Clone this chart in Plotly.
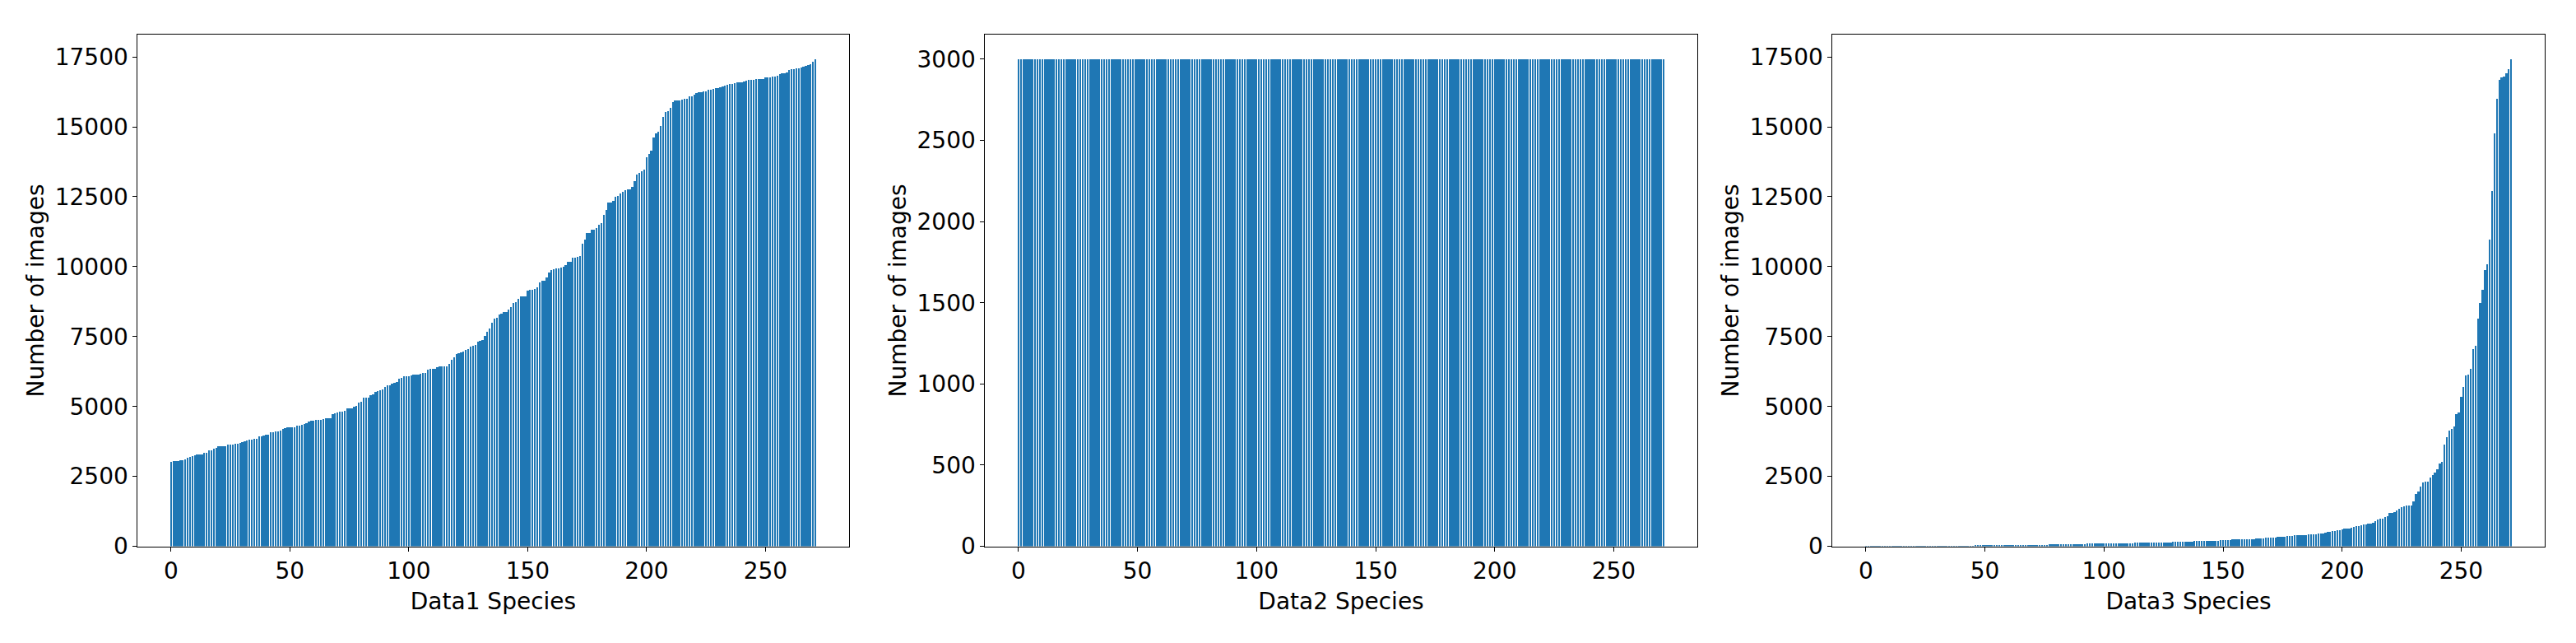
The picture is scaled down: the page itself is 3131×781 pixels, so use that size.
import plotly.graph_objects as go
from plotly.subplots import make_subplots

# number of images per species, sorted ascending
data1_counts = [
    3020, 3055, 3055, 3055, 3085, 3085, 3115, 3175, 3205, 3235,
    3265, 3285, 3285, 3285, 3345, 3345, 3435, 3435, 3485, 3515,
    3575, 3575, 3575, 3575, 3635, 3635, 3635, 3655, 3655, 3685,
    3715, 3745, 3775, 3805, 3805, 3835, 3855, 3945, 3945, 3975,
    4005, 4005, 4065, 4065, 4095, 4115, 4145, 4205, 4235, 4265,
    4265, 4265, 4265, 4325, 4325, 4345, 4375, 4405, 4465, 4495,
    4495, 4525, 4525, 4525, 4550, 4580, 4580, 4580, 4720, 4750,
    4780, 4810, 4810, 4840, 4930, 4930, 4930, 4980, 5010, 5150,
    5180, 5320, 5320, 5320, 5410, 5440, 5530, 5550, 5580, 5610,
    5705, 5755, 5755, 5815, 5845, 5875, 5985, 6015, 6075, 6075,
    6075, 6105, 6135, 6135, 6135, 6155, 6185, 6185, 6305, 6335,
    6335, 6355, 6415, 6445, 6445, 6445, 6445, 6535, 6680, 6770,
    6880, 6910, 6940, 6970, 7020, 7050, 7140, 7170, 7200, 7310,
    7340, 7370, 7510, 7680, 7800, 8005, 8145, 8175, 8285, 8315,
    8375, 8375, 8465, 8545, 8695, 8745, 8835, 8945, 8945, 8945,
    9150, 9180, 9180, 9210, 9270, 9440, 9500, 9500, 9610, 9780,
    9870, 9900, 9930, 9930, 9960, 9990, 10070, 10180, 10180, 10330,
    10330, 10360, 10390, 10815, 10965, 11195, 11215, 11335, 11335, 11395,
    11505, 11565, 11855, 12030, 12290, 12290, 12340, 12510, 12540, 12630,
    12690, 12740, 12770, 12770, 12860, 13060, 13295, 13345, 13405, 13465,
    13925, 14035, 14155, 14610, 14760, 14820, 15020, 15360, 15530, 15560,
    15670, 15880, 15940, 15940, 15940, 15970, 16000, 16000, 16080, 16080,
    16140, 16200, 16230, 16230, 16280, 16280, 16340, 16340, 16370, 16400,
    16400, 16420, 16450, 16480, 16510, 16540, 16540, 16570, 16600, 16600,
    16600, 16630, 16650, 16680, 16680, 16680, 16710, 16710, 16710, 16710,
    16770, 16770, 16770, 16800, 16800, 16830, 16890, 16910, 16910, 16940,
    17020, 17060, 17060, 17080, 17080, 17110, 17140, 17170, 17200, 17230,
    17340, 17410,
]

# balanced set: every species capped at 3000
data2_counts = [3000] * 272

data3_counts = [
    1, 1, 1, 1, 1, 1, 1, 1, 1, 1,
    1, 1, 1, 1, 1, 1, 1, 1, 1, 1,
    2, 2, 2, 2, 2, 2, 2, 2, 2, 2,
    2, 2, 2, 2, 2, 3, 3, 3, 3, 3,
    3, 3, 3, 3, 3, 3, 32, 33, 33, 34,
    34, 35, 35, 36, 36, 37, 37, 38, 38, 39,
    39, 40, 40, 41, 41, 42, 42, 43, 43, 44,
    44, 45, 45, 46, 47, 48, 58, 60, 61, 62,
    63, 64, 65, 66, 67, 68, 68, 69, 70, 71,
    86, 88, 89, 90, 91, 92, 93, 94, 95, 96,
    97, 98, 99, 100, 101, 102, 103, 104, 105, 106,
    107, 108, 118, 119, 120, 121, 122, 123, 124, 125,
    126, 127, 128, 129, 130, 142, 144, 146, 148, 150,
    152, 153, 154, 155, 168, 171, 174, 177, 180, 182,
    184, 196, 198, 200, 201, 202, 204, 205, 207, 222,
    225, 227, 229, 231, 250, 252, 254, 255, 257, 258,
    260, 261, 263, 265, 280, 284, 287, 290, 306, 310,
    313, 316, 320, 337, 341, 345, 349, 366, 370, 375,
    392, 395, 398, 401, 404, 407, 425, 428, 432, 436,
    452, 456, 460, 487, 510, 518, 540, 548, 568, 576,
    601, 625, 630, 636, 659, 687, 712, 720, 745, 773,
    795, 805, 820, 850, 888, 945, 974, 1002, 1060, 1088,
    1195, 1203, 1210, 1289, 1346, 1403, 1432, 1455, 1461, 1468,
    1604, 1862, 1948, 2148, 2291, 2315, 2325, 2463, 2549, 2640,
    2740, 2950, 3007, 3626, 3915, 4150, 4202, 4294, 4736, 4777,
    5331, 5701, 6102, 6132, 6348, 7056, 7179, 8145, 8689, 9181,
    9869, 10075, 10958, 12714, 14757, 15990, 16687, 16770, 16800, 16913,
    17057, 17410,
]

dataset_names = ["Data1", "Data2", "Data3"]
x_ticks = [0, 50, 100, 150, 200, 250]
y_ticks_big = [0, 2500, 5000, 7500, 10000, 12500, 15000, 17500]
y_ticks_small = [0, 500, 1000, 1500, 2000, 2500, 3000]

assert len(data1_counts) == len(data2_counts) == len(data3_counts) == 272
species = list(range(len(data1_counts)))

BLUE = "#1f77b4"
FONT = "DejaVu Sans"

fig = make_subplots(rows=1, cols=3)
for col, counts in enumerate([data1_counts, data2_counts, data3_counts], start=1):
    fig.add_trace(go.Bar(x=species, y=counts, marker=dict(color=BLUE, line=dict(width=0)),
                         showlegend=False), row=1, col=col)

x_domains = [[0.05347, 0.32945], [0.38243, 0.65880], [0.71140, 0.98777]]
y_ranges = [[0, 18290], [0, 3150], [0, 18290]]
y_tick_sets = [y_ticks_big, y_ticks_small, y_ticks_big]

axis_style = dict(showline=True, mirror=True, linecolor="black", linewidth=1,
                  ticks="outside", ticklen=5, tickwidth=1, tickcolor="black",
                  showgrid=False, zeroline=False,
                  tickfont=dict(family=FONT, size=28, color="black"))

for i in range(3):
    fig.update_xaxes(domain=x_domains[i], range=[-13.99, 284.99],
                     tickvals=x_ticks, ticktext=[str(t) for t in x_ticks],
                     title=dict(text=f"{dataset_names[i]} Species",
                                font=dict(family=FONT, size=28, color="black"), standoff=11),
                     row=1, col=i + 1, **axis_style)
    fig.update_yaxes(domain=[0.1315, 0.9446], range=y_ranges[i],
                     tickvals=y_tick_sets[i], ticktext=[str(t) for t in y_tick_sets[i]],
                     title=dict(text="Number of images",
                                font=dict(family=FONT, size=28, color="black"), standoff=4),
                     row=1, col=i + 1, **axis_style)

fig.update_layout(
    width=3131, height=781,
    margin=dict(l=0, r=0, t=0, b=0),
    bargap=0.2,
    plot_bgcolor="white", paper_bgcolor="white",
    font=dict(family=FONT, size=28, color="black"))

# drop the page margin and draw the thin bars with hard pixel edges, like the original raster
post_js = (
    "document.body.style.margin='0px';"
    "document.querySelectorAll('.bars path').forEach(function(p){"
    "p.style.shapeRendering='crispEdges';});"
)
fig.write_html("out.html", post_script=post_js, config={"displayModeBar": False})
